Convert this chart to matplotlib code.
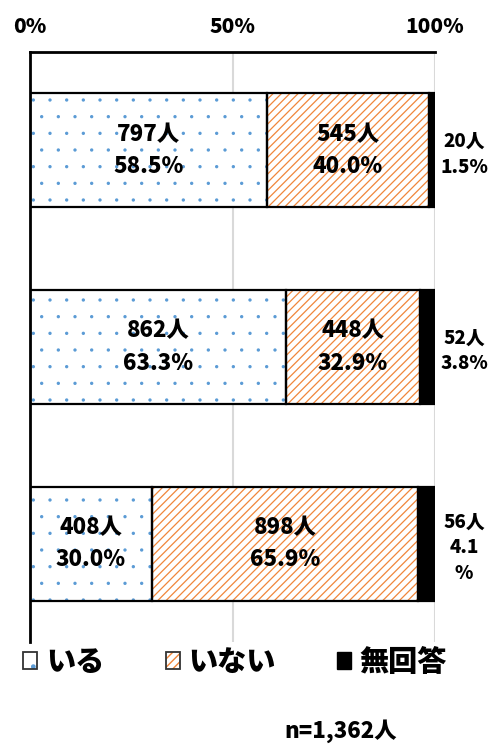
import matplotlib
matplotlib.use("Agg")
import matplotlib.pyplot as plt
from matplotlib.patches import Patch

plt.rcParams['font.family'] = ['Noto Sans CJK JP', 'DejaVu Sans']
plt.rcParams['font.weight'] = 'heavy'

# data
categories = ["A", "B", "C"]
iru_n = [797, 862, 408]
iru_pct = [58.5, 63.3, 30.0]
inai_n = [545, 448, 898]
inai_pct = [40.0, 32.9, 65.9]
muk_n = [20, 52, 56]
muk_pct = [1.5, 3.8, 4.1]
muk_labels = ["20人\n1.5%", "52人\n3.8%", "56人\n4.1\n%"]
legend_labels = ["いる", "いない", "無回答"]
total_label = "n=1,362人"

blue = '#5b9bd5'
orange = '#f0863a'
fw = 'heavy'


def set_hlw(artists, lw):
    for a in artists:
        if hasattr(a, 'set_hatch_linewidth'):
            a.set_hatch_linewidth(lw)


fig = plt.figure(figsize=(4.88, 7.44), dpi=100)
ax = fig.add_axes([30/488, 1-642/744, 405/488, 590/744])

y = list(range(len(categories)))
h = 0.58
left2 = iru_pct
left3 = [a + b for a, b in zip(iru_pct, inai_pct)]

# hatch layers (colored hatch, no edge), then black outlines on top
with plt.rc_context({'hatch.linewidth': 0.0}):
    b1 = ax.barh(y, iru_pct, height=h, color='white', edgecolor=blue, hatch='.', linewidth=0, zorder=2)
set_hlw(b1, 0.0)
with plt.rc_context({'hatch.linewidth': 0.9}):
    b2 = ax.barh(y, inai_pct, left=left2, height=h, color='white', edgecolor=orange, hatch='////', linewidth=0, zorder=2)
set_hlw(b2, 0.9)
ax.barh(y, iru_pct, height=h, color='none', edgecolor='black', linewidth=1.6, zorder=3)
ax.barh(y, inai_pct, left=left2, height=h, color='none', edgecolor='black', linewidth=1.6, zorder=3)
ax.barh(y, muk_pct, left=left3, height=h, color='black', edgecolor='black', linewidth=1.6, zorder=3)

for i in y:
    ax.text(iru_pct[i] / 2, i, f"{iru_n[i]}人\n{iru_pct[i]:.1f}%", ha='center', va='center',
            fontsize=16, fontweight=fw, linespacing=1.5, zorder=4)
    ax.text(left2[i] + inai_pct[i] / 2, i, f"{inai_n[i]}人\n{inai_pct[i]:.1f}%", ha='center', va='center',
            fontsize=16, fontweight=fw, linespacing=1.5, zorder=4)
    ax.text(107.2, i + 0.02, muk_labels[i], ha='center', va='center',
            fontsize=13.5, fontweight=fw, linespacing=1.45, clip_on=False, zorder=4)

ax.set_xlim(0, 100)
ax.set_ylim(2.5, -0.5)
ax.set_xticks([0, 50, 100])
ax.set_xticklabels(["0%", "50%", "100%"], fontsize=15, fontweight=fw)
ax.xaxis.tick_top()
ax.tick_params(axis='x', length=0, pad=11)
ax.set_yticks([])
ax.grid(axis='x', color='#d9d9d9', linewidth=1.5, zorder=0)
ax.set_axisbelow(True)
for s in ['right', 'bottom']:
    ax.spines[s].set_visible(False)
ax.spines['left'].set_linewidth(2)
ax.spines['top'].set_linewidth(2)

with plt.rc_context({'hatch.linewidth': 0.0}):
    h1 = Patch(facecolor='white', edgecolor=blue, hatch='.', linewidth=0)
with plt.rc_context({'hatch.linewidth': 0.9}):
    h2 = Patch(facecolor='white', edgecolor=orange, hatch='////', linewidth=0)
set_hlw([h1], 0.0)
set_hlw([h2], 0.9)
outline = Patch(facecolor='none', edgecolor='#333333', linewidth=1.3)
handles = [(h1, outline), (h2, outline), Patch(facecolor='black', edgecolor='black')]
leg = fig.legend(handles, legend_labels, loc='center left', bbox_to_anchor=(0.048, 1-662/744),
                 ncol=3, frameon=False, prop={'size': 21, 'weight': fw},
                 handlelength=0.48, handleheight=0.48, handletextpad=0.3, columnspacing=2.1,
                 borderaxespad=0, borderpad=0)

fig.text(341/488, 1-731/744, total_label, ha='center', va='center', fontsize=16, fontweight=fw)

fig.savefig("out.png", dpi=100)
